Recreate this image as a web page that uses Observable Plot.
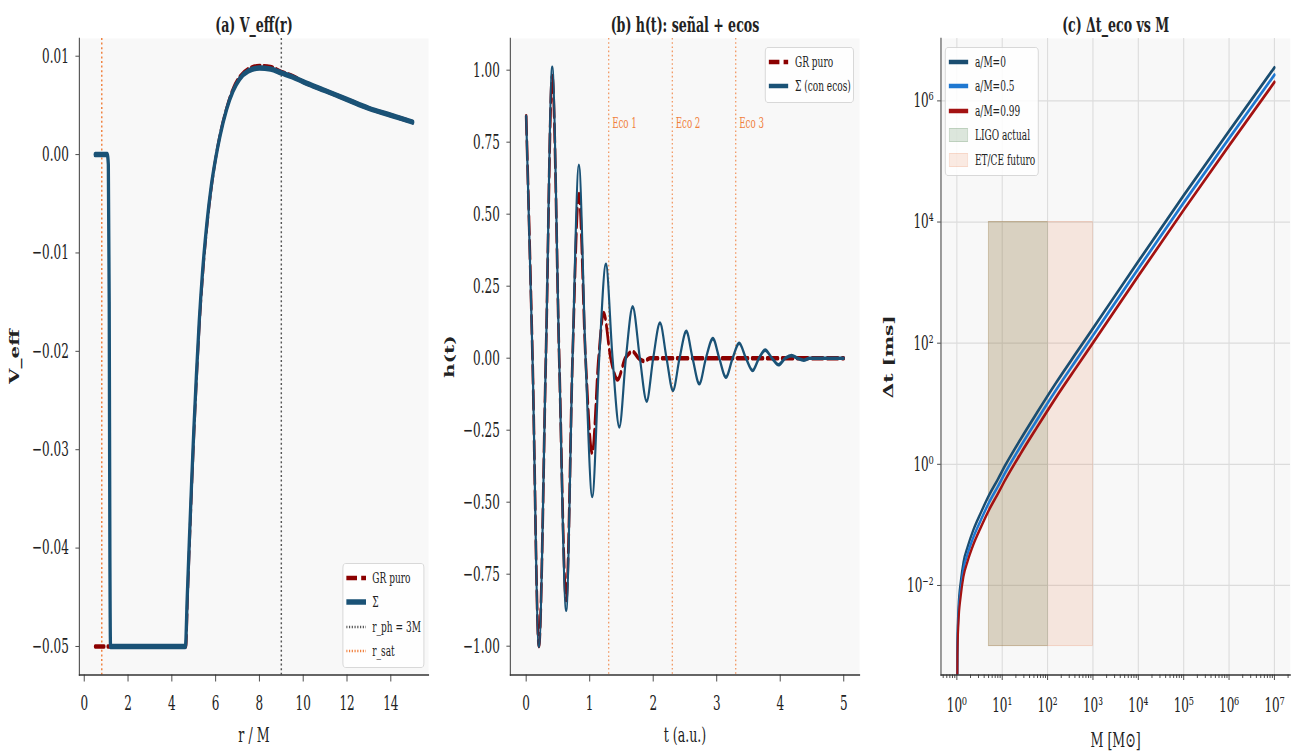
<!DOCTYPE html>
<html>
<head>
<meta charset="utf-8">
<script src="https://cdn.jsdelivr.net/npm/d3@7"></script>
<script src="https://cdn.jsdelivr.net/npm/@observablehq/plot@0.6"></script>
<style>
  html, body { margin: 0; padding: 0; background: #fff; overflow: hidden; width: 1296px; height: 756px; }
  /* the three panels are laid out on a wide stage, then squeezed horizontally */
  #stage { position: absolute; left: 0; top: 0; width: 2160px; height: 756px;
           transform: scaleX(0.6); transform-origin: 0 0;
           font-family: "DejaVu Serif", serif; color: #222; }
  .panel { position: absolute; top: 0; }
  .legend { position: absolute; box-sizing: border-box; background: rgba(255,255,255,0.85);
            border: 1px solid #cfcfcf; border-radius: 5px; font-size: 15px; color: #222; }
  .legend .row { display: flex; align-items: center; height: 24.5px; white-space: nowrap; }
  .legend svg { display: block; flex: none; margin-right: 11px; }
</style>
</head>
<body>
<div id="stage"></div>
<script>
// ---------- (a) effective potential V_eff(r) ----------
const seriesA = ["GR puro", "Σ", "r_ph = 3M", "r_sat"];
const rGR = [0.50, 4.64, 4.72, 4.82, 4.92, 5.02, 5.14, 5.27, 5.42, 5.62, 5.82, 6.00, 6.20, 6.50,
             6.80, 7.10, 7.50, 8.00, 8.50, 9.00, 9.50, 10.0, 11.0, 12.0, 13.0, 14.0, 15.0];
const vGR = [-0.0500, -0.0500, -0.0448, -0.0388, -0.0331, -0.0279, -0.0222, -0.0168, -0.0119, -0.0069,
             -0.0031, -0.0004, 0.0020, 0.0047, 0.0067, 0.0079, 0.0087, 0.0090, 0.0089, 0.0084,
             0.0080, 0.0074, 0.0065, 0.0056, 0.0047, 0.0040, 0.0033];
const rSigma = [0.50, 1.05, 1.10, 1.14, 1.17, 1.20, 4.62, 4.70, 4.80, 4.90, 5.00, 5.12, 5.25, 5.40,
                5.60, 5.80, 6.00, 6.20, 6.50, 6.80, 7.10, 7.50, 8.00, 8.50, 9.00, 9.50, 10.0,
                11.0, 12.0, 13.0, 14.0, 15.0];
const vSigma = [0.0000, 0.0000, -0.0010, -0.0150, -0.0400, -0.0500, -0.0500, -0.0452, -0.0392, -0.0335,
                -0.0282, -0.0225, -0.0170, -0.0120, -0.0070, -0.0032, -0.0004, 0.0019, 0.0046, 0.0065,
                0.0077, 0.0085, 0.0088, 0.0087, 0.0083, 0.0079, 0.0074, 0.0065, 0.0056, 0.0047,
                0.0040, 0.0033];
const rPhotonSphere = [9];
const rSaturation = [0.8];
const rTicks = [0, 2, 4, 6, 8, 10, 12, 14];
const vTicks = [-0.05, -0.04, -0.03, -0.02, -0.01, 0.00, 0.01];

// ---------- (b) waveform h(t): ringdown plus echoes ----------
const seriesB = ["GR puro", "Σ (con ecos)"];
const tGR = [0.00, 0.10, 0.20, 0.31, 0.41, 0.52, 0.63, 0.73, 0.83, 0.935, 1.04, 1.14, 1.22, 1.33,
             1.44, 1.56, 1.68, 1.77, 1.86, 1.95, 2.50, 3.00, 3.50, 4.00, 4.50, 5.00];
const hGR = [0.84, 0.00, -1.00, 0.00, 0.98, 0.00, -0.84, 0.00, 0.57, 0.00, -0.33, 0.00, 0.157, 0.00,
             -0.074, 0.00, 0.022, 0.00, -0.010, 0.00, 0.00, 0.00, 0.00, 0.00, 0.00, 0.00];
const tSigma = [0.00, 0.10, 0.20, 0.31, 0.41, 0.52, 0.63, 0.73, 0.83, 0.935, 1.04, 1.15, 1.255, 1.36,
                1.467, 1.57, 1.677, 1.79, 1.897, 2.00, 2.107, 2.21, 2.311, 2.415, 2.521, 2.62, 2.726,
                2.83, 2.94, 3.04, 3.145, 3.25, 3.354, 3.46, 3.564, 3.665, 3.763, 3.87, 3.973, 4.08,
                4.18, 4.27, 4.37, 4.46, 4.60, 4.80, 5.00];
const hSigma = [0.84, 0.00, -1.00, 0.00, 1.01, 0.00, -0.875, 0.00, 0.67, 0.00, -0.48, 0.00, 0.326, 0.00,
                -0.239, 0.00, 0.178, 0.00, -0.149, 0.00, 0.122, 0.00, -0.112, 0.00, 0.093, 0.00, -0.089,
                0.00, 0.068, 0.00, -0.066, 0.00, 0.052, 0.00, -0.043, 0.00, 0.028, 0.00, -0.023, 0.00,
                0.009, 0.00, -0.007, 0.00, 0.00, 0.00, 0.00];
const echoTimes = [1.3, 2.3, 3.3];
const echoLabels = ["Eco 1", "Eco 2", "Eco 3"];
const echoLabelY = 0.8;
const tTicks = [0, 1, 2, 3, 4, 5];
const hTicks = [-1.00, -0.75, -0.50, -0.25, 0.00, 0.25, 0.50, 0.75, 1.00];

// ---------- (c) echo delay vs mass ----------
const spinLabels = ["a/M=0", "a/M=0.5", "a/M=0.99"];
const massM     = [1.0, 1.03, 1.084, 1.225, 1.4, 1.72, 2.3, 3.39, 5.0, 7.94, 12.0, 25, 56.2, 155, 427, 1000, 1e4, 1e5, 1e6, 1e7];
const dtSpin0   = [1e-5, 1.2e-3, 4.2e-3, 0.0120, 0.0245, 0.043, 0.082, 0.160, 0.298, 0.560, 1.00, 2.55, 6.80, 22.4, 69.0, 176, 2240, 27500, 316000, 3.55e6];
const dtSpin05  = [1e-5, 9.1e-4, 3.2e-3, 0.0091, 0.0186, 0.033, 0.062, 0.121, 0.226, 0.425, 0.76, 1.94, 5.16, 17.0, 52.4, 134, 1700, 20900, 240000, 2.69e6];
const dtSpin099 = [1e-5, 6.9e-4, 2.4e-3, 0.0069, 0.0141, 0.025, 0.047, 0.092, 0.171, 0.322, 0.575, 1.47, 3.91, 12.9, 39.7, 101, 1290, 15800, 182000, 2.04e6];
const bandNames = ["LIGO actual", "ET/CE futuro"];
const bandMassMin = [5, 5];
const bandMassMax = [100, 1000];
const bandDtMin = [1e-3, 1e-3];
const bandDtMax = [1e4, 1e4];
const massTicks = [1, 1e1, 1e2, 1e3, 1e4, 1e5, 1e6, 1e7];
const dtTicks = [1e-2, 1, 1e2, 1e4, 1e6];

const titles = ["(a) V_eff(r)", "(b) h(t): señal + ecos", "(c) Δt_eco vs M"];
const xLabels = ["r / M", "t (a.u.)", "M [M⊙]"];
const yLabels = ["V_eff", "h(t)", "Δt [ms]"];

// ---------- styling ----------
const col = {
  blue: "#1a5276", red: "#8b0000", orange: "#f07f3c", gray: "#555555",
  spin: ["#1a4d70", "#1f78d1", "#a31212"], bands: ["#2e6b2e", "#e8804f"],
  bg: "#f8f8f8", spine: "#333333"
};
const baseStyle = {fontFamily: "DejaVu Serif, serif", fontSize: "20px", color: "#222",
                   background: "transparent", overflow: "visible", maxWidth: "none"};
const H = 756, TOP = 38, BOTTOM = 81.5;

const zip = (xs, ys, kx, ky) => xs.map((x, i) => ({[kx]: x, [ky]: ys[i]}));
const supMap = {"0":"⁰","1":"¹","2":"²","3":"³","4":"⁴","5":"⁵","6":"⁶","7":"⁷","8":"⁸","9":"⁹","-":"⁻","−":"⁻"};
const pow10 = d => "10" + String(Math.round(Math.log10(d))).split("").map(c => supMap[c]).join("");

function decor(i, yLabelDx, xLabelDy) {
  return [
    Plot.frame({anchor: "left", stroke: col.spine, strokeWidth: 1.6}),
    Plot.frame({anchor: "bottom", stroke: col.spine, strokeWidth: 1.6}),
    Plot.text([titles[i]], {frameAnchor: "top", dy: -7, lineAnchor: "bottom", fontWeight: "bold", fontSize: 21, fill: "#222"}),
    Plot.text([xLabels[i]], {frameAnchor: "bottom", dy: xLabelDy, lineAnchor: "bottom", fontSize: 21, fill: "#222"}),
    Plot.text([yLabels[i]], {frameAnchor: "left", dx: yLabelDx, rotate: -90, textAnchor: "middle", lineAnchor: "middle",
                             fontWeight: "bold", fontSize: 20, fill: "#222"})
  ];
}

const stage = document.getElementById("stage");
function mount(svg, left) {
  const div = document.createElement("div");
  div.className = "panel";
  div.style.left = left + "px";
  div.appendChild(svg);
  stage.appendChild(div);
}

function legend(left, top, width, items) {
  const box = document.createElement("div");
  box.className = "legend";
  box.style.left = left + "px";
  box.style.top = top + "px";
  box.style.width = width + "px";
  box.style.padding = "2px 0 3px 5px";
  for (const it of items) {
    const row = document.createElement("div");
    row.className = "row";
    const ns = "http://www.w3.org/2000/svg";
    const s = document.createElementNS(ns, "svg");
    s.setAttribute("width", 33); s.setAttribute("height", 16);
    if (it.patch) {
      const r = document.createElementNS(ns, "rect");
      r.setAttribute("x", 1); r.setAttribute("y", 1.5); r.setAttribute("width", 31); r.setAttribute("height", 13);
      r.setAttribute("fill", it.patch); r.setAttribute("fill-opacity", 0.16);
      r.setAttribute("stroke", it.patch); r.setAttribute("stroke-opacity", 0.25);
      s.appendChild(r);
    } else {
      const l = document.createElementNS(ns, "line");
      l.setAttribute("x1", 0); l.setAttribute("x2", 33); l.setAttribute("y1", 8); l.setAttribute("y2", 8);
      l.setAttribute("stroke", it.stroke); l.setAttribute("stroke-width", it.width);
      if (it.dash) l.setAttribute("stroke-dasharray", it.dash);
      s.appendChild(l);
    }
    row.appendChild(s);
    const span = document.createElement("span");
    span.textContent = it.label;
    row.appendChild(span);
    box.appendChild(row);
  }
  stage.appendChild(box);
}

// ---------- panel (a) ----------
const dataGR_A = zip(rGR, vGR, "r", "v");
const dataSigma_A = zip(rSigma, vSigma, "r", "v");
mount(Plot.plot({
  width: 733, height: H, marginLeft: 131.7, marginRight: 19.2, marginTop: TOP, marginBottom: BOTTOM,
  style: baseStyle,
  x: {domain: [-0.225, 15.725]},
  y: {domain: [-0.0529, 0.0118]},
  marks: [
    Plot.frame({fill: col.bg, stroke: "none"}),
    Plot.ruleX(rSaturation, {stroke: col.orange, strokeWidth: 2.4, strokeDasharray: "2,2.6"}),
    Plot.ruleX(rPhotonSphere, {stroke: col.gray, strokeWidth: 2.4, strokeDasharray: "2,2.6"}),
    Plot.line(dataGR_A, {x: "r", y: "v", curve: "monotone-x", stroke: col.red, strokeWidth: 4.5, strokeDasharray: "15,6"}),
    Plot.line(dataSigma_A, {x: "r", y: "v", curve: "monotone-x", stroke: col.blue, strokeWidth: 5.5}),
    Plot.axisX({ticks: rTicks, tickFormat: d3.format("d"), tickSize: 7, tickPadding: 13.5, label: null}),
    Plot.axisY({ticks: vTicks, tickFormat: d3.format(".2f"), tickSize: 6, tickPadding: 11.5, label: null}),
    ...decor(0, -106.7, 67.2)
  ]
}), 0);
legend(570.5, 562.7, 136, [
  {label: seriesA[0], stroke: col.red, width: 4.5, dash: "18,7"},
  {label: seriesA[1], stroke: col.blue, width: 5.5},
  {label: seriesA[2], stroke: col.gray, width: 2.4, dash: "2,2.6"},
  {label: seriesA[3], stroke: col.orange, width: 2.4, dash: "2,2.6"}
]);

// ---------- panel (b) ----------
const dataGR_B = zip(tGR, hGR, "t", "h");
const dataSigma_B = zip(tSigma, hSigma, "t", "h");
const echoTable = echoTimes.map((t, i) => ({t, label: echoLabels[i], y: echoLabelY}));
mount(Plot.plot({
  width: 733, height: H, marginLeft: 117, marginRight: 33.8, marginTop: TOP, marginBottom: BOTTOM,
  style: baseStyle,
  x: {domain: [-0.25, 5.25]},
  y: {domain: [-1.10, 1.11]},
  marks: [
    Plot.frame({fill: col.bg, stroke: "none"}),
    Plot.ruleX(echoTimes, {stroke: col.orange, strokeWidth: 1.7, strokeDasharray: "1.6,2.6"}),
    Plot.text(echoTable, {x: "t", y: "y", text: "label", dx: 5.7, textAnchor: "start", lineAnchor: "bottom",
                          fill: col.orange, fontSize: 14.5}),
    Plot.line(dataGR_B, {x: "t", y: "h", curve: "monotone-x", stroke: col.red, strokeWidth: 4.5, strokeDasharray: "18,7"}),
    Plot.line(dataSigma_B, {x: "t", y: "h", curve: "monotone-x", stroke: col.blue, strokeWidth: 3.6}),
    Plot.axisX({ticks: tTicks, tickFormat: d3.format("d"), tickSize: 7, tickPadding: 13.5, label: null}),
    Plot.axisY({ticks: hTicks, tickFormat: d3.format(".2f"), tickSize: 6, tickPadding: 11.5, label: null}),
    ...decor(1, -100, 67.2)
  ]
}), 733);
legend(1275, 46.7, 148.3, [
  {label: seriesB[0], stroke: col.red, width: 4.5, dash: "18,7"},
  {label: seriesB[1], stroke: col.blue, width: 4.5}
]);

// ---------- panel (c) ----------
const spinSeries = [dtSpin0, dtSpin05, dtSpin099].map(dt => zip(massM, dt, "M", "dt"));
const bandTable = bandNames.map((name, i) => ({name, m1: bandMassMin[i], m2: bandMassMax[i], d1: bandDtMin[i], d2: bandDtMax[i]}));
const minorMass = d3.range(-1, 8).flatMap(k => d3.range(2, 10).map(m => m * 10 ** k))
  .filter(v => v > 10 ** -0.35 && v < 10 ** 7.35);
mount(Plot.plot({
  width: 694, height: H, marginLeft: 101.8, marginRight: 10, marginTop: TOP, marginBottom: BOTTOM,
  style: baseStyle,
  x: {type: "log", domain: [10 ** -0.35, 10 ** 7.35]},
  y: {type: "log", domain: [10 ** -3.478, 10 ** 7.03]},
  marks: [
    Plot.frame({fill: col.bg, stroke: "none"}),
    Plot.gridX({ticks: massTicks, stroke: "#dcdcdc", strokeOpacity: 1, strokeWidth: 1.8}),
    Plot.gridY({ticks: dtTicks, stroke: "#dcdcdc", strokeOpacity: 1, strokeWidth: 1.3}),
    Plot.rect(bandTable, {x1: "m1", x2: "m2", y1: "d1", y2: "d2", fill: (d, i) => col.bands[i],
                          fillOpacity: 0.16, stroke: (d, i) => col.bands[i], strokeOpacity: 0.25}),
    ...spinSeries.map((s, i) => Plot.line(s, {x: "M", y: "dt", curve: "monotone-x", clip: true,
                                              stroke: col.spin[i], strokeWidth: 3.6})),
    Plot.axisX({ticks: minorMass, tickSize: 3.5, tickFormat: () => "", label: null}),
    Plot.axisX({ticks: massTicks, tickSize: 5.5, tickPadding: 17.5, tickFormat: pow10, label: null}),
    Plot.axisY({ticks: dtTicks, tickSize: 6, tickPadding: 6.5, tickFormat: pow10, label: null}),
    ...decor(2, -86, 72)
  ]
}), 1466);
legend(1575, 46.7, 155.5, [
  {label: spinLabels[0], stroke: col.spin[0], width: 4.5},
  {label: spinLabels[1], stroke: col.spin[1], width: 4.5},
  {label: spinLabels[2], stroke: col.spin[2], width: 4.5},
  {label: bandNames[0], patch: col.bands[0]},
  {label: bandNames[1], patch: col.bands[1]}
]);
</script>
</body>
</html>
